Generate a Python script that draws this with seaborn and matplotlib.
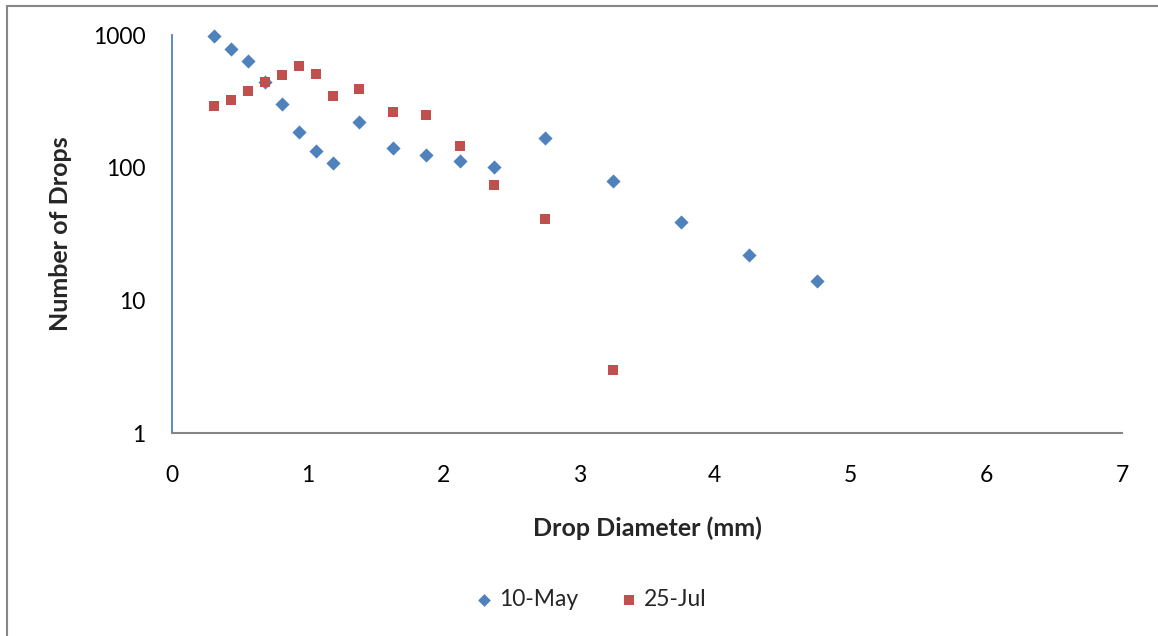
import matplotlib
matplotlib.use("Agg")
import matplotlib.pyplot as plt
import pandas as pd
import seaborn as sns
from matplotlib.lines import Line2D
from matplotlib.ticker import FixedLocator, FixedFormatter, NullLocator

# Drop-size distribution, two sampling dates
diameter_may = [0.3125, 0.4375, 0.5625, 0.6875, 0.8125, 0.9375, 1.0625, 1.1875,
                1.375, 1.625, 1.875, 2.125, 2.375, 2.75, 3.25, 3.75, 4.25, 4.75]
drops_may = [990, 780, 640, 443, 301, 185, 134, 109,
             221, 141, 125, 113, 101, 168, 80, 39, 22, 14]

diameter_jul = [0.3125, 0.4375, 0.5625, 0.6875, 0.8125, 0.9375, 1.0625, 1.1875,
                1.375, 1.625, 1.875, 2.125, 2.375, 2.75, 3.25]
drops_jul = [290, 322, 380, 440, 497, 581, 508, 349,
             392, 263, 248, 145, 74, 41, 3]

series_names = ["10-May", "25-Jul"]
series_colors = ["#4F81BD", "#C0504D"]
series_markers = ["D", "s"]

x_ticks = [0, 1, 2, 3, 4, 5, 6, 7]
y_ticks = [1, 10, 100, 1000]
y_tick_labels = ["1", "10", "100", "1000"]

sns.set_theme(style="white")
plt.rcParams["font.family"] = ["Lato", "DejaVu Sans"]

df = pd.concat([
    pd.DataFrame({"diameter": diameter_may, "drops": drops_may, "date": series_names[0]}),
    pd.DataFrame({"diameter": diameter_jul, "drops": drops_jul, "date": series_names[1]}),
], ignore_index=True)

W, H = 1158, 636
fig = plt.figure(figsize=(W / 100, H / 100), dpi=100)
fig.patch.set_facecolor("white")
ax = fig.add_axes([172 / W, 1 - 433 / H, 950 / W, 398 / H])

palette = dict(zip(series_names, series_colors))
markers = dict(zip(series_names, series_markers))
sizes = {"10-May": 52, "25-Jul": 56}

for name in series_names:
    sub = df[df["date"] == name]
    sns.scatterplot(data=sub, x="diameter", y="drops", color=palette[name],
                    marker=markers[name], s=sizes[name], linewidth=0,
                    ax=ax, label=name, zorder=3, clip_on=False)

ax.set_yscale("log")
ax.set_xlim(0, 7)
ax.set_ylim(1, 1000)
ax.xaxis.set_major_locator(FixedLocator(x_ticks))
ax.yaxis.set_major_locator(FixedLocator(y_ticks))
ax.yaxis.set_major_formatter(FixedFormatter(y_tick_labels))
ax.yaxis.set_minor_locator(NullLocator())
ax.tick_params(axis="both", length=0, labelsize=16.5, colors="black")
ax.tick_params(axis="y", pad=19)
ax.tick_params(axis="x", pad=23)

for side in ["top", "right"]:
    ax.spines[side].set_visible(False)
ax.spines["left"].set_color("#4F81BD")
ax.spines["left"].set_linewidth(1.3)
ax.spines["bottom"].set_color("#868686")
ax.spines["bottom"].set_linewidth(1.5)

ax.set_xlabel("Drop Diameter (mm)", fontsize=18, fontweight="bold", labelpad=22)
ax.set_ylabel("Number of Drops", fontsize=18, fontweight="bold", labelpad=15)

handles, labels = ax.get_legend_handles_labels()
if ax.legend_:
    ax.legend_.remove()
fig.legend(handles, labels, loc="center", bbox_to_anchor=(592 / W, 1 - 600 / H),
           ncol=2, frameon=False, fontsize=16.5, handlelength=0.6,
           handletextpad=0.35, columnspacing=1.9, markerscale=0.9)

# chart-area frame (top and left edges)
fig.add_artist(Line2D([6.5 / W, 1], [1 - 5.5 / H, 1 - 5.5 / H], color="#868686",
                      linewidth=1.5, transform=fig.transFigure))
fig.add_artist(Line2D([6.5 / W, 6.5 / W], [0, 1 - 5.5 / H], color="#868686",
                      linewidth=1.5, transform=fig.transFigure))

fig.savefig("out.png", dpi=100)
